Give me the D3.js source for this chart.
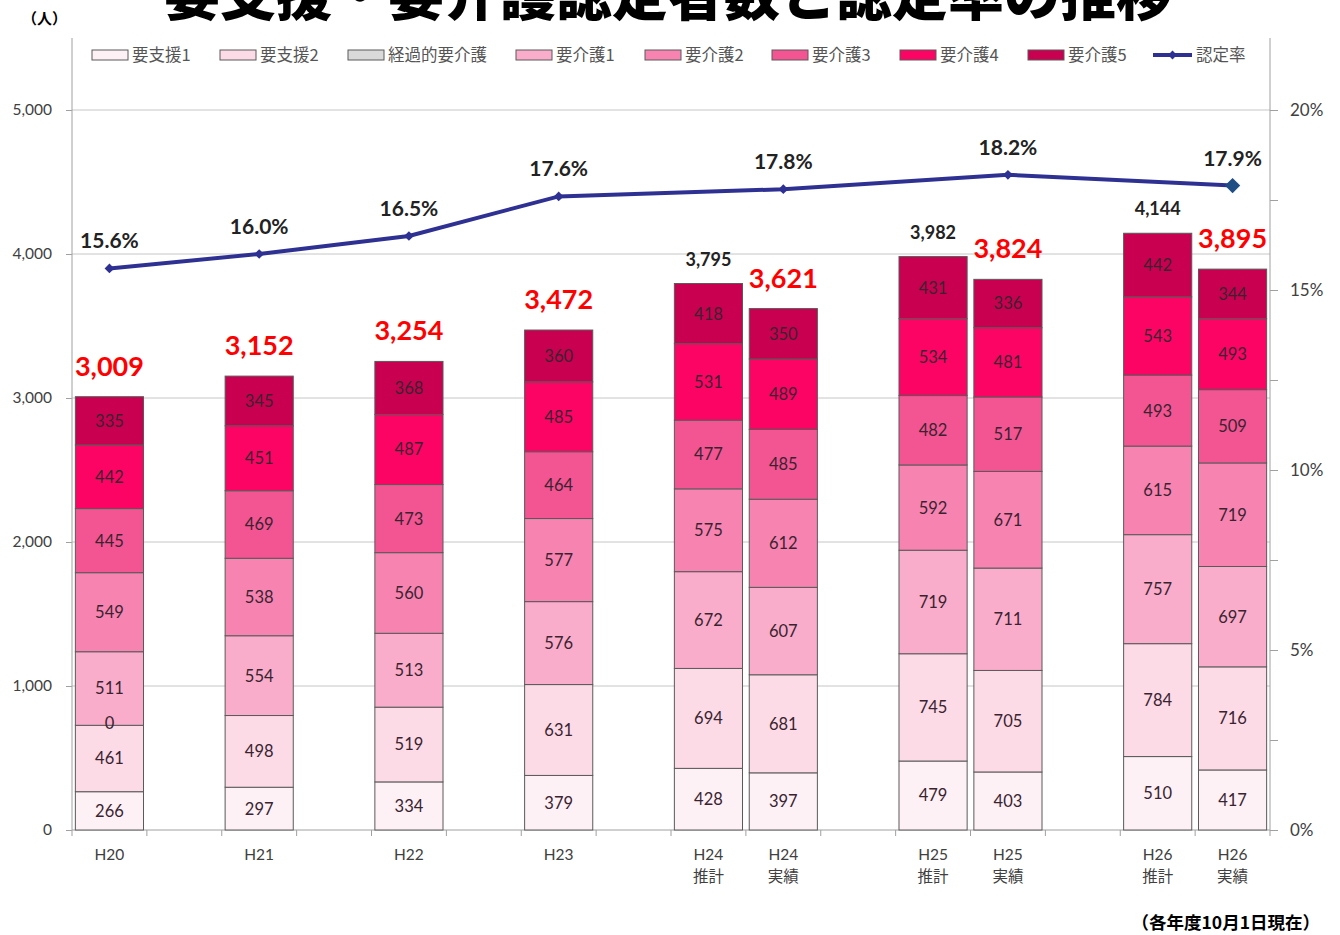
<!DOCTYPE html>
<html>
<head>
<meta charset="utf-8">
<script src="https://cdn.jsdelivr.net/npm/d3@7"></script>
<style>
  body { margin: 0; background: #fff; }
  svg { display: block; }
</style>
</head>
<body>
<div id="chart"></div>
<script>
// Categories (real bars) and the x labels shown under them
var categories = ["H20", "H21", "H22", "H23", "H24推計", "H24実績", "H25推計", "H25実績", "H26推計", "H26実績"];
var xLabels = [["H20"], ["H21"], ["H22"], ["H23"], ["H24", "推計"], ["H24", "実績"], ["H25", "推計"], ["H25", "実績"], ["H26", "推計"], ["H26", "実績"]];
var isEstimate = [false, false, false, false, true, false, true, false, true, false];

// Series values, bottom to top
var seriesNames = ["要支援1", "要支援2", "経過的要介護", "要介護1", "要介護2", "要介護3", "要介護4", "要介護5"];
var shien1 = [266, 297, 334, 379, 428, 397, 479, 403, 510, 417];
var shien2 = [461, 498, 519, 631, 694, 681, 745, 705, 784, 716];
var keika  = [0, null, null, null, null, null, null, null, null, null];
var kaigo1 = [511, 554, 513, 576, 672, 607, 719, 711, 757, 697];
var kaigo2 = [549, 538, 560, 577, 575, 612, 592, 671, 615, 719];
var kaigo3 = [445, 469, 473, 464, 477, 485, 482, 517, 493, 509];
var kaigo4 = [442, 451, 487, 485, 531, 489, 534, 481, 543, 493];
var kaigo5 = [335, 345, 368, 360, 418, 350, 431, 336, 442, 344];
var totals = [3009, 3152, 3254, 3472, 3795, 3621, 3982, 3824, 4144, 3895];

// 認定率 (%) — only shown for actual-result bars
var rate = [15.6, 16.0, 16.5, 17.6, null, 17.8, null, 18.2, null, 17.9];

var leftTicks = [0, 1000, 2000, 3000, 4000, 5000];
var rightTicks = [0, 5, 10, 15, 20];

var colors = ["#fdf1f6", "#fcdbe7", "#d9d9d9", "#f9adca", "#f784b0", "#f25592", "#fb0464", "#c8004f"];
var lineColor = "#2e3192";

// x slots, with empty spacers between the year groups
var slots = ["H20", "_1", "H21", "_2", "H22", "_3", "H23", "_4", "H24推計", "H24実績", "_5", "H25推計", "H25実績", "_6", "H26推計", "H26実績"];

var W = 1340, H = 935;
var margin = { top: 38, right: 70, bottom: 105, left: 72 };
var width = W - margin.left - margin.right,
    height = H - margin.top - margin.bottom;

var numFont = "Lato, 'Noto Sans CJK JP', sans-serif";
var jpFont = "'Noto Sans CJK JP', sans-serif";

var svg = d3.select("#chart").append("svg")
    .attr("width", W)
    .attr("height", H);

// Title (cut off at the top in the original)
svg.append("text")
    .attr("x", 668)
    .attr("y", 15)
    .attr("text-anchor", "middle")
    .style("font-family", jpFont)
    .style("font-weight", 900)
    .style("font-size", "56px")
    .style("fill", "#000")
    .text("要支援・要介護認定者数と認定率の推移");

svg.append("text")
    .attr("x", 22)
    .attr("y", 24)
    .style("font-family", jpFont)
    .style("font-weight", 700)
    .style("font-size", "15px")
    .text("（人）");

var g = svg.append("g")
    .attr("transform", "translate(" + margin.left + "," + margin.top + ")");

var x = d3.scaleBand().domain(slots).range([0, width]).paddingInner(0.09).paddingOuter(0.045);
var y = d3.scaleLinear().domain([0, 5500]).range([height, 0]);
var yR = d3.scaleLinear().domain([0, 22]).range([height, 0]);

// gridlines
g.selectAll(".grid")
    .data(leftTicks.filter(d => d > 0))
    .enter().append("line")
    .attr("x1", 0).attr("x2", width)
    .attr("y1", d => y(d)).attr("y2", d => y(d))
    .attr("stroke", "#c6c6c6").attr("stroke-width", 1);

// Left axis
var yAxis = g.append("g")
    .call(d3.axisLeft(y).tickValues(leftTicks).tickFormat(d3.format(",")).tickSize(6).tickPadding(14));
yAxis.select(".domain").attr("stroke", "#a0a0a0").attr("d", "M0," + height + "V0");
yAxis.selectAll(".tick line").attr("stroke", "#a0a0a0");
yAxis.selectAll("text").style("font-family", numFont).style("font-size", "15.5px").style("fill", "#404040");

// Right axis
var yAxisR = g.append("g")
    .attr("transform", "translate(" + width + ",0)")
    .call(d3.axisRight(yR).tickValues(d3.range(0, 22.5, 2.5)).tickFormat(d => d % 5 === 0 ? d + "%" : "").tickSize(8).tickPadding(12));
yAxisR.select(".domain").attr("stroke", "#a0a0a0").attr("d", "M0," + height + "V0");
yAxisR.selectAll(".tick line").attr("stroke", "#a0a0a0");
yAxisR.selectAll("text").style("font-family", numFont).style("font-size", "17px").style("fill", "#404040");

// Bottom axis
var xAxis = g.append("g").attr("transform", "translate(0," + height + ")");
xAxis.append("line").attr("x1", 0).attr("x2", width).attr("stroke", "#a0a0a0");
var step = x.step();
xAxis.selectAll(".xtick")
    .data(d3.range(slots.length + 1))
    .enter().append("line")
    .attr("x1", i => x.range()[0] + x.paddingOuter() * step - x.paddingInner() * step / 2 + i * step)
    .attr("x2", i => x.range()[0] + x.paddingOuter() * step - x.paddingInner() * step / 2 + i * step)
    .attr("y1", 0).attr("y2", 6)
    .attr("stroke", "#a0a0a0");

var xl = xAxis.selectAll(".xlab")
    .data(categories)
    .enter().append("text")
    .attr("transform", d => "translate(" + (x(d) + x.bandwidth() / 2) + ",30)")
    .attr("text-anchor", "middle")
    .style("font-family", numFont)
    .style("font-size", "15.5px")
    .style("fill", "#404040");
xl.selectAll("tspan")
    .data((d, i) => xLabels[i])
    .enter().append("tspan")
    .attr("x", 0)
    .attr("dy", (d, i) => i === 0 ? 0 : 22)
    .style("font-family", (d, i) => i === 0 ? numFont : jpFont)
    .text(d => d);

// Stacked bars
var rows = categories.map((c, i) => {
    var r = { cat: c };
    [shien1, shien2, keika, kaigo1, kaigo2, kaigo3, kaigo4, kaigo5].forEach((s, k) => { r[seriesNames[k]] = s[i]; });
    return r;
});
var stack = d3.stack().keys(seriesNames).value((d, key) => d[key] || 0);
var stacked = stack(rows);

var layers = g.selectAll(".layer")
    .data(stacked)
    .enter().append("g")
    .attr("fill", (d, i) => colors[i]);

layers.selectAll("rect")
    .data(d => d.filter(p => p.data[d.key] != null && p.data[d.key] > 0))
    .enter().append("rect")
    .attr("x", d => x(d.data.cat))
    .attr("y", d => y(d[1]))
    .attr("width", x.bandwidth())
    .attr("height", d => y(d[0]) - y(d[1]))
    .attr("stroke", "#5a5a5a")
    .attr("stroke-width", 1);

// segment labels drawn after all rects so none get covered
var segLabels = stacked.flatMap(s => s.map(p => ({ p: p, key: s.key })))
    .filter(o => o.p.data[o.key] != null);
g.append("g").selectAll("text")
    .data(segLabels)
    .enter().append("text")
    .attr("x", o => x(o.p.data.cat) + x.bandwidth() / 2)
    .attr("y", o => y((o.p[0] + o.p[1]) / 2) - (o.p.data[o.key] === 0 ? 2 : 0))
    .attr("dy", "0.36em")
    .attr("text-anchor", "middle")
    .style("font-family", numFont)
    .style("font-size", "16.5px")
    .style("fill", "#3a2330")
    .text(o => o.p.data[o.key]);

// Totals
g.selectAll(".total")
    .data(categories)
    .enter().append("text")
    .attr("x", d => x(d) + x.bandwidth() / 2)
    .attr("y", (d, i) => y(totals[i]) - (isEstimate[i] ? 18 : 21))
    .attr("text-anchor", "middle")
    .style("font-family", numFont)
    .style("font-weight", 700)
    .style("font-size", (d, i) => isEstimate[i] ? "18px" : "27px")
    .style("fill", (d, i) => isEstimate[i] ? "#222" : "#ff0000")
    .text((d, i) => d3.format(",")(totals[i]));

// Rate line
var ratePts = categories.map((c, i) => ({ cat: c, v: rate[i] })).filter(d => d.v != null);
var line = d3.line()
    .x(d => x(d.cat) + x.bandwidth() / 2)
    .y(d => yR(d.v));
g.append("path")
    .datum(ratePts)
    .attr("d", line)
    .attr("fill", "none")
    .attr("stroke", lineColor)
    .attr("stroke-width", 4);

g.selectAll(".marker")
    .data(ratePts)
    .enter().append("path")
    .attr("transform", d => "translate(" + (x(d.cat) + x.bandwidth() / 2) + "," + yR(d.v) + ")")
    .attr("d", (d, i) => d3.symbol().type(d3.symbolDiamond2).size(i === ratePts.length - 1 ? 150 : 60)())
    .attr("fill", (d, i) => i === ratePts.length - 1 ? "#1f4e85" : lineColor);

g.selectAll(".rlab")
    .data(ratePts)
    .enter().append("text")
    .attr("x", d => x(d.cat) + x.bandwidth() / 2)
    .attr("y", d => yR(d.v) - 20)
    .attr("text-anchor", "middle")
    .style("font-family", numFont)
    .style("font-weight", 700)
    .style("font-size", "21px")
    .style("fill", "#222")
    .text(d => d.v.toFixed(1) + "%");

// Legend
var legendX = [92, 220, 348, 516, 645, 772, 900, 1028];
var legend = svg.append("g");
seriesNames.forEach((name, i) => {
    legend.append("rect")
        .attr("x", legendX[i]).attr("y", 50)
        .attr("width", 36).attr("height", 10)
        .attr("fill", colors[i])
        .attr("stroke", "#5a5a5a");
    legend.append("text")
        .attr("x", legendX[i] + 40).attr("y", 55)
        .attr("dy", "0.36em")
        .style("font-family", jpFont)
        .style("font-size", "16.5px")
        .style("fill", "#555")
        .text(name);
});
legend.append("line")
    .attr("x1", 1153).attr("x2", 1192).attr("y1", 55).attr("y2", 55)
    .attr("stroke", lineColor).attr("stroke-width", 4);
legend.append("path")
    .attr("transform", "translate(1172.5,55)")
    .attr("d", d3.symbol().type(d3.symbolDiamond2).size(50)())
    .attr("fill", lineColor);
legend.append("text")
    .attr("x", 1196).attr("y", 55)
    .attr("dy", "0.36em")
    .style("font-family", jpFont)
    .style("font-size", "16.5px")
    .style("fill", "#555")
    .text("認定率");

// Footnote
svg.append("text")
    .attr("x", 1320)
    .attr("y", 929)
    .attr("text-anchor", "end")
    .style("font-family", jpFont)
    .style("font-weight", 700)
    .style("font-size", "17.5px")
    .text("（各年度10月1日現在）");
</script>
</body>
</html>
